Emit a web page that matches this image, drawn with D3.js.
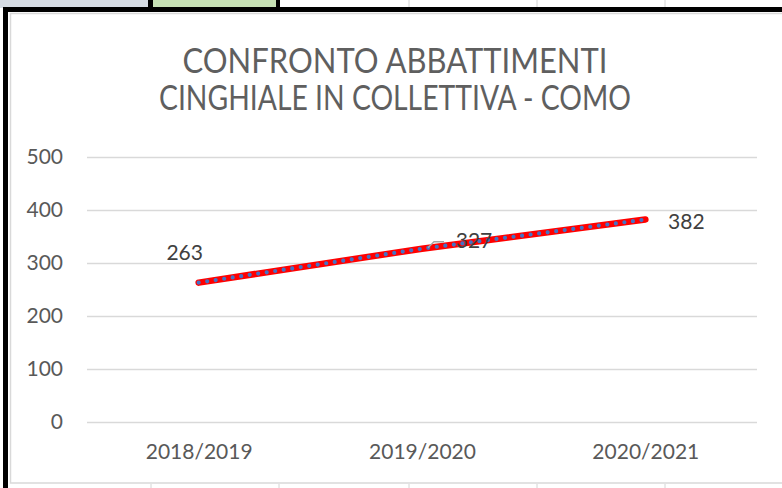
<!DOCTYPE html>
<html>
<head>
<meta charset="utf-8">
<script src="https://cdn.jsdelivr.net/npm/d3@7"></script>
<style>
  body { margin: 0; background: #fff; }
  svg { display: block; font-family: Lato, "Open Sans", sans-serif; }
</style>
</head>
<body>
<svg width="782" height="488"></svg>
<script>
// data
var seasons = ["2018/2019", "2019/2020", "2020/2021"];
var abbattimenti = [263, 327, 382];
var yTicks = [0, 100, 200, 300, 400, 500];
var titleLines = ["CONFRONTO ABBATTIMENTI", "CINGHIALE IN COLLETTIVA - COMO"];

const svg = d3.select("svg"),
    plot = {left: 87, right: 757, top: 157, bottom: 422};

// spreadsheet bits around the chart object
svg.append("rect").attr("x", 0).attr("y", 0).attr("width", 148).attr("height", 8).attr("fill", "#d6dce4");
svg.append("rect").attr("x", 153).attr("y", 0).attr("width", 123).attr("height", 8).attr("fill", "#c6e0b4");
svg.append("rect").attr("x", 148).attr("y", 0).attr("width", 5).attr("height", 8).attr("fill", "#000");
svg.append("rect").attr("x", 276).attr("y", 0).attr("width", 4).attr("height", 8).attr("fill", "#000");
[409, 537, 665].forEach(function(x) {
    svg.append("line").attr("x1", x).attr("x2", x).attr("y1", 0).attr("y2", 8)
        .attr("stroke", "#d4d4d4");
});
[151, 279, 409, 537, 665].forEach(function(x) {
    svg.append("line").attr("x1", x).attr("x2", x).attr("y1", 484).attr("y2", 488)
        .attr("stroke", "#d4d4d4");
});
svg.append("rect").attr("x", 3).attr("y", 7).attr("width", 779).attr("height", 5).attr("fill", "#000");
svg.append("rect").attr("x", 3).attr("y", 7).attr("width", 5).attr("height", 481).attr("fill", "#000");

// chart area
svg.append("rect")
    .attr("x", 10.5).attr("y", 13.5).attr("width", 790).attr("height", 469.5)
    .attr("fill", "#fff").attr("stroke", "#d9d9d9").attr("stroke-width", 1.5);

// title
const title = svg.append("g").attr("class", "title");
title.selectAll("text")
    .data(titleLines)
    .enter().append("text")
    .attr("x", 395)
    .attr("y", function(d, i) { return 73 + i * 37; })
    .attr("text-anchor", "middle")
    .attr("font-size", 34)
    .attr("fill", "#5f5f5f")
    .attr("textLength", function(d, i) { return i === 0 ? 425 : 472; })
    .attr("lengthAdjust", "spacingAndGlyphs")
    .text(function(d) { return d; });

var x = d3.scalePoint().domain(seasons).range([plot.left, plot.right]).padding(0.5),
    y = d3.scaleLinear().domain([0, 500]).range([plot.bottom, plot.top]);

// y axis + gridlines
const yAxis = svg.append("g")
    .attr("class", "axis axis--y")
    .attr("transform", "translate(" + plot.left + ",0)")
    .call(d3.axisLeft(y).tickValues(yTicks).tickSizeInner(-(plot.right - plot.left)).tickSizeOuter(0).tickPadding(24));
yAxis.select(".domain").remove();
yAxis.selectAll(".tick line").attr("stroke", "#d9d9d9").attr("stroke-width", 1.5);
yAxis.selectAll(".tick text")
    .attr("fill", "#595959")
    .attr("font-size", 21)
    .attr("font-family", "Lato, sans-serif");

// x axis
const xAxis = svg.append("g")
    .attr("class", "axis axis--x")
    .attr("transform", "translate(0," + plot.bottom + ")")
    .call(d3.axisBottom(x).tickSize(0).tickPadding(22));
xAxis.select(".domain").remove();
xAxis.selectAll(".tick text")
    .attr("fill", "#595959")
    .attr("font-size", 21)
    .attr("font-family", "Lato, sans-serif");

// series
var points = seasons.map(function(s, i) { return {season: s, value: abbattimenti[i]}; });
var line = d3.line()
    .x(function(d) { return x(d.season); })
    .y(function(d) { return y(d.value); });

svg.append("path")
    .datum(points)
    .attr("d", line)
    .attr("fill", "none")
    .attr("stroke", "#ff0000")
    .attr("stroke-width", 6.5)
    .attr("stroke-linecap", "round");

svg.append("path")
    .datum(points)
    .attr("d", line)
    .attr("fill", "none")
    .attr("stroke", "#4472c4")
    .attr("stroke-width", 4.2)
    .attr("stroke-linecap", "round")
    .attr("stroke-dasharray", "0 8.6");

// data labels (offsets from the point, as Excel left them)
var labelOffset = [{dx: -14, dy: -23}, {dx: 52, dy: -1}, {dx: 41, dy: 9}];

svg.append("path")
    .attr("d", function() {
        var px = x(seasons[1]), py = y(abbattimenti[1]);
        return "M" + (px + 6) + "," + (py - 1) + "L" + (px + 12) + "," + (py - 7) + "L" + (px + 22) + "," + (py - 7);
    })
    .attr("fill", "none")
    .attr("stroke", "#a6a6a6")
    .attr("stroke-width", 1.5);

svg.append("g")
    .attr("class", "labels")
    .selectAll("text")
    .data(points)
    .enter().append("text")
    .attr("x", function(d, i) { return x(d.season) + labelOffset[i].dx; })
    .attr("y", function(d, i) { return y(d.value) + labelOffset[i].dy; })
    .attr("text-anchor", "middle")
    .attr("font-size", 21)
    .attr("fill", "#404040")
    .text(function(d) { return d.value; });
</script>
</body>
</html>
